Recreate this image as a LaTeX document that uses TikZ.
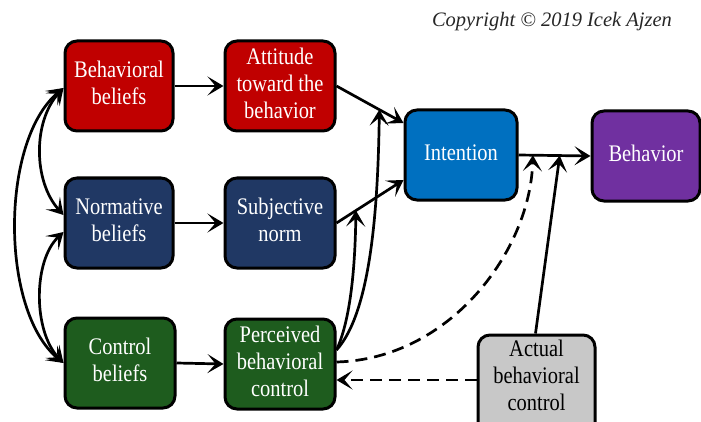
\documentclass[tikz,border=0pt]{standalone}
\usepackage{fontspec}
\setmainfont{Liberation Serif}
\usetikzlibrary{arrows.meta,calc}
\definecolor{cred}{HTML}{C00000}
\definecolor{cnavy}{HTML}{203864}
\definecolor{cgreen}{HTML}{1E5C1E}
\definecolor{cblue}{HTML}{0070C0}
\definecolor{cpurple}{HTML}{7030A0}
\definecolor{cgray}{HTML}{C8C8C8}
\newcommand{\bt}[1]{\scalebox{0.93}[1.08]{\fontsize{22}{25}\selectfont\begin{tabular}{@{}c@{}}#1\end{tabular}}}
\begin{document}
\begin{tikzpicture}[x=1pt,y=1pt,
  box/.style={draw=black, line width=3pt, rounded corners=12pt, minimum width=108pt,
    minimum height=90pt, inner sep=0pt, text=white, align=center},
  tipS/.tip={Stealth[length=16pt,width=19pt,inset=8pt]},
  conn/.style={line width=2.7pt, -tipS},
  conn2/.style={line width=2.7pt, tipS-tipS},
  dashline/.style={dash pattern=on 12pt off 7pt}]
\useasboundingbox (0,0) rectangle (701,421);
\clip (0,0) rectangle (701,421);
\node[box, fill=cred] (BB) at (119,335) {\bt{Behavioral\\beliefs}};
\node[box, fill=cred, minimum width=110pt] (Att) at (280,335) {\bt{Attitude\\toward the\\behavior}};
\node[box, fill=cnavy] (NB) at (119,198) {\bt{Normative\\beliefs}};
\node[box, fill=cnavy, minimum width=110pt] (SN) at (280,198) {\bt{Subjective\\norm}};
\node[box, fill=cgreen, minimum width=110pt] (CB) at (120,58) {\bt{Control\\beliefs}};
\node[box, fill=cgreen, minimum width=110pt] (PBC) at (280,57) {\bt{Perceived\\behavioral\\control}};
\node[box, fill=cblue, minimum width=112pt] (Int) at (461,266) {\bt{Intention}};
\node[box, fill=cpurple] (Beh) at (646,265) {\bt{Behavior}};
\node[box, fill=cgray, minimum width=117pt, minimum height=100pt,
  label={[name=ActT, text=black, inner sep=0pt, yshift=7pt]center:\bt{Actual\\behavioral\\control}}] (Act) at (536.5,36) {};
\node[font=\itshape\fontsize{20.5}{23}\selectfont, text=black!85] (cr) at (552,399) {Copyright © 2019 Icek Ajzen};

% row arrows
\draw[conn] (BB.east) -- (Att.west);
\draw[conn] (NB.east) -- (SN.west);
\draw[conn] (CB.east) -- (PBC.west);

% to intention
\coordinate (IA) at ([yshift=32pt]Int.west);
\coordinate (IS) at ([yshift=-25pt]Int.west);
\draw[conn] (Att.east) -- (IA);
\draw[conn] (SN.east) -- (IS);
\coordinate (mA) at ($(Att.east)!0.64!(IA)$);
\coordinate (mS) at ($(SN.east)!0.29!(IS)$);
\coordinate (ps) at ([yshift=14pt]PBC.east);
\draw[conn] (ps) .. controls (350,100) and (355,150) .. (mS);
\draw[conn] (ps) .. controls (372,110) and (378,220) .. (mA);

% intention to behavior
\draw[conn] (Int.east) -- (Beh.west);
\coordinate (mD) at ($(Int.east)!0.2!(Beh.west)$);
\coordinate (mE) at ($(Int.east)!0.573!(Beh.west)$);
\draw[conn, dashline] ([yshift=2pt]PBC.east) .. controls (450,62) and (530,170) .. (mD);
\draw[conn] ([xshift=-1pt]Act.north) -- (mE);
\draw[conn, dashline] ([yshift=5pt]Act.west) -- ([yshift=5pt]Act.west -| PBC.east);

% left correlations
\draw[conn2] ([yshift=-2pt]BB.west) .. controls (33,300) and (33,240) .. ([yshift=8pt]NB.west);
\draw[conn2] ([yshift=-9pt]NB.west) .. controls (33,160) and (33,90) .. (CB.west);
\draw[conn2] ([yshift=-2pt]BB.west) .. controls (0,280) and (0,110) .. (CB.west);
\end{tikzpicture}
\end{document}
